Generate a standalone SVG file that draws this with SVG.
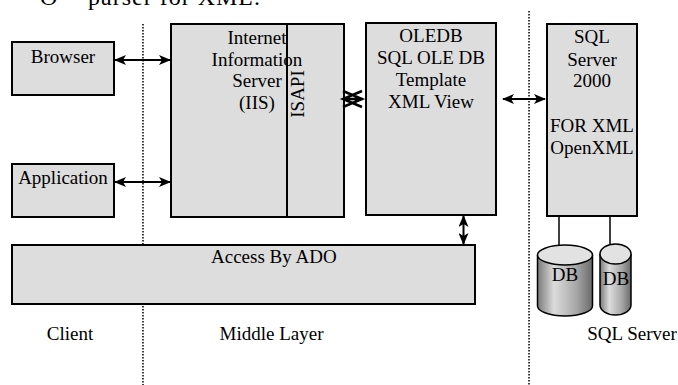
<svg xmlns="http://www.w3.org/2000/svg" width="678" height="385" viewBox="0 0 678 385">
<style>
text{font-family:"Liberation Serif","Times New Roman",serif;font-size:19px;fill:#000}
.c{text-anchor:middle}
.box{fill:#dddddd;stroke:#000;stroke-width:2}
.dot{stroke:#000;stroke-width:1.5;stroke-dasharray:1.5 1.5;fill:none}
.ar{stroke:#000;stroke-width:2;fill:none;marker-start:url(#ah);marker-end:url(#ah)}
.ln{stroke:#000;stroke-width:1.5;fill:none}
</style>
<defs>
<marker id="ah" viewBox="0 0 12 10" refX="11" refY="5" markerWidth="12" markerHeight="10" markerUnits="userSpaceOnUse" orient="auto-start-reverse">
<path d="M0,0 L12,5 L0,10 L3,5 z" fill="#000"/>
</marker>
<linearGradient id="cyl" x1="0" y1="0" x2="1" y2="0">
<stop offset="0" stop-color="#7a7a7a"/>
<stop offset="0.3" stop-color="#dcdcdc"/>
<stop offset="0.7" stop-color="#a8a8a8"/>
<stop offset="1" stop-color="#6a6a6a"/>
</linearGradient>
</defs>
<text x="40" y="5" style="font-size:24px">O</text>
<text x="88" y="5" style="font-size:24px" textLength="172">parser for XML.</text>
<line class="dot" x1="143" y1="24" x2="143" y2="385"/>
<line class="dot" x1="529" y1="11" x2="529" y2="385"/>
<g id="browser"><rect class="box" x="12" y="42" width="102" height="53"/><text class="c" x="63" y="62.5">Browser</text></g>
<g id="application"><rect class="box" x="12" y="164" width="102" height="53"/><text class="c" x="63" y="184">Application</text></g>
<g id="iis"><rect class="box" x="171" y="24" width="173" height="193"/><line x1="287" y1="24" x2="287" y2="217" stroke="#000" stroke-width="2"/>
<text class="c" x="257" y="44">Internet</text><text class="c" x="257" y="65.5">Information</text><text class="c" x="257" y="87">Server</text><text class="c" x="257" y="108.5">(IIS)</text>
<text class="c" transform="translate(304,94) rotate(-90)">ISAPI</text></g>
<g id="oledb"><rect class="box" x="366" y="23" width="130" height="192"/>
<text class="c" x="431" y="42">OLEDB</text><text class="c" x="431" y="64">SQL OLE DB</text><text class="c" x="431" y="86">Template</text><text class="c" x="431" y="108">XML View</text></g>
<g id="sqlserver"><rect class="box" x="547" y="24" width="90" height="192"/>
<text class="c" x="592" y="43">SQL</text><text class="c" x="592" y="65.5">Server</text><text class="c" x="592" y="87">2000</text><text class="c" x="592" y="131.5">FOR XML</text><text class="c" x="592" y="154">OpenXML</text></g>
<g id="ado"><rect class="box" x="12" y="245" width="463" height="59"/><text x="211" y="263.3">Access By ADO</text></g>
<g id="db1"><path d="M537.5,255 L537.5,306 A27.5,10 0 0 0 592.5,306 L592.5,255" fill="url(#cyl)" stroke="#000" stroke-width="1.5"/><ellipse cx="565" cy="255" rx="27.5" ry="10" fill="#e2e2e2" stroke="#000" stroke-width="1.5"/><text class="c" x="565" y="281">DB</text></g>
<g id="db2"><path d="M600,254 L600,305 A15.5,10 0 0 0 631,305 L631,254" fill="url(#cyl)" stroke="#000" stroke-width="1.5"/><ellipse cx="615.5" cy="254" rx="15.5" ry="10" fill="#e2e2e2" stroke="#000" stroke-width="1.5"/><text class="c" x="616" y="285">DB</text></g>
<g id="labels">
<text class="c" x="70" y="340">Client</text>
<text class="c" x="271.5" y="340">Middle Layer</text>
<text class="c" x="632" y="340">SQL Server</text>
</g>
<g id="connectors">
<line class="ar" x1="115" y1="60" x2="170" y2="60"/>
<line class="ar" x1="115" y1="182" x2="170" y2="182"/>
<path d="M343,99 L363,99 M362,91 L343,99 L362,107 M343,91 L362,99 L343,107" stroke="#000" stroke-width="2.5" fill="none"/>
<line class="ar" x1="503" y1="99" x2="545" y2="99"/>
<line class="ar" x1="463.5" y1="216" x2="463.5" y2="244"/>
<line class="ln" x1="559" y1="216" x2="559" y2="245"/>
<line class="ln" x1="610" y1="216" x2="610" y2="244"/>
</g>
</svg>
